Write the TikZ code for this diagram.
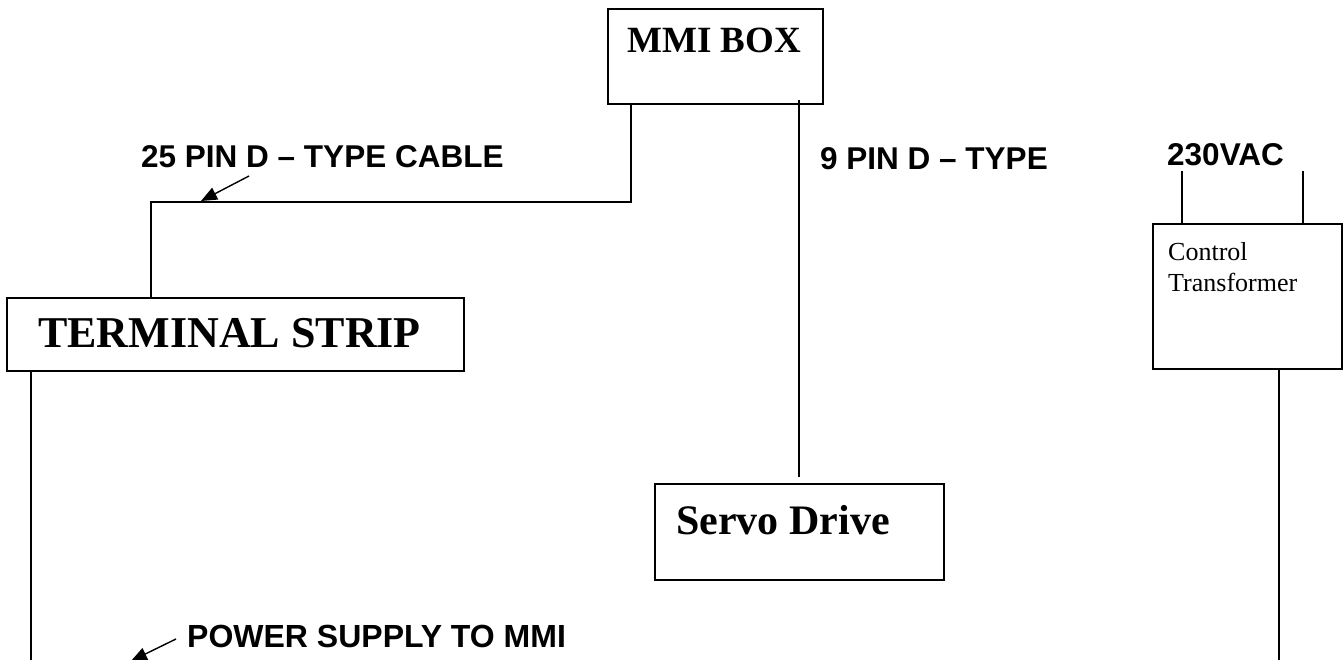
\documentclass[tikz,border=0pt]{standalone}
\usepackage{fontspec}
\setmainfont{Liberation Serif}
\newfontfamily\arialfont{Liberation Sans}
\usetikzlibrary{arrows.meta}
\tikzset{
  box/.style={draw, line width=2pt, rectangle, inner sep=0pt},
  wire/.style={line width=2pt},
  pointer/.style={line width=1.4pt, -{Triangle[length=16pt,width=13pt]}},
  sanslabel/.style={font=\arialfont\bfseries\fontsize{31.5}{36}\selectfont, anchor=base west, inner sep=0pt},
  seriftitle/.style={font=\bfseries, anchor=base west, inner sep=0pt},
}
\begin{document}
\begin{tikzpicture}[x=1pt,y=-1pt]
\useasboundingbox (0,0) rectangle (1344,660);
% boxes
\node[box, minimum width=215pt, minimum height=95pt] (mmi) at (715.5,56.5) {};
\node[box, minimum width=457pt, minimum height=73pt] (term) at (235.5,334.5) {};
\node[box, minimum width=289pt, minimum height=96pt] (servo) at (799.5,532) {};
\node[box, minimum width=189pt, minimum height=145pt] (trafo) at (1247.5,296.5) {};
% box texts
\node[seriftitle, font=\bfseries\fontsize{37}{42}\selectfont] (mmitxt) at (627,53) {MMI BOX};
\node[seriftitle, font=\bfseries\fontsize{44}{50}\selectfont] (termtxt) at (38,347) {TERMINAL STRIP};
\node[seriftitle, font=\bfseries\fontsize{42}{48}\selectfont] (servotxt) at (676,534) {Servo Drive};
\node[font=\fontsize{26}{31}\selectfont, anchor=base west, inner sep=0pt] (trafotxt1) at (1168,261) {Control};
\node[font=\fontsize{26}{31}\selectfont, anchor=base west, inner sep=0pt] (trafotxt2) at (1168,292) {Transformer};
% labels
\node[sanslabel] (l25) at (141,168) {25 PIN D – TYPE CABLE};
\node[sanslabel] (l9) at (820,170) {9 PIN D – TYPE};
\node[sanslabel] (l230) at (1167,166) {230VAC};
\node[sanslabel, font=\arialfont\bfseries\fontsize{32}{36}\selectfont] (lpow) at (187,647) {POWER SUPPLY TO MMI};
% connectors
\draw[wire] ([xshift=24pt]mmi.south west) -- ++(0,97) -| ([xshift=145pt]term.north west);
\draw[wire] ([shift={(192pt,5pt)}]mmi.south west) -- ([shift={(145pt,6pt)}]servo.north west);
\draw[wire] ([xshift=25pt]term.south west) -- ++(0,289);
\draw[wire] ([xshift=30pt]trafo.north west) -- ++(0,-52);
\draw[wire] ([xshift=151pt]trafo.north west) -- ++(0,-52);
\draw[wire] ([xshift=127pt]trafo.south west) -- ++(0,291);
% pointer arrows
\coordinate (a25) at (249,176);
\coordinate (a25tip) at (201,201);
\draw[pointer] (a25) -- (a25tip);
\coordinate (apow) at (176,639);
\coordinate (apowtip) at (131,661);
\draw[pointer] (apow) -- (apowtip);
\end{tikzpicture}
\end{document}
